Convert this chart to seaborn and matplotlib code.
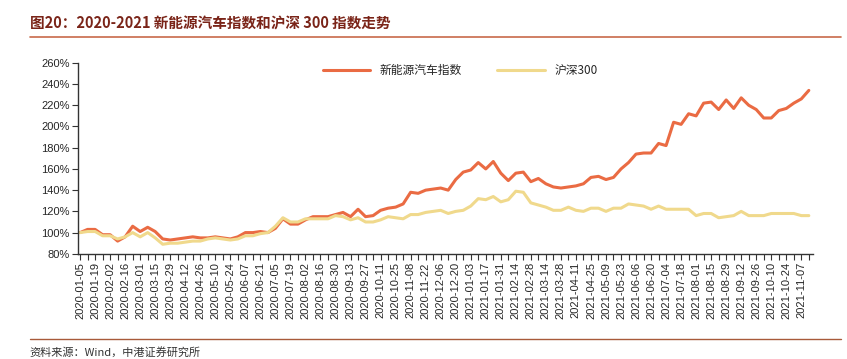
import pandas as pd
import seaborn as sns
import matplotlib.pyplot as plt
import matplotlib.dates as mdates

# weekly closes, rebased to 100% at 2020-01-05
nev = [100, 103, 103, 98, 98, 92, 96, 106, 101, 105, 101, 94, 93, 94, 95, 96, 95, 95, 96, 95,
       94, 96, 100, 100, 101, 100, 104, 113, 108, 108, 112, 115, 115, 115, 117, 119, 115, 122, 115, 116,
       121, 123, 124, 127, 138, 137, 140, 141, 142, 140, 150, 157, 159, 166, 160, 167, 156, 149, 156, 157,
       148, 151, 146, 143, 142, 143, 144, 146, 152, 153, 150, 152, 160, 166, 174, 175, 175, 184, 182, 204,
       202, 212, 210, 222, 223, 216, 225, 217, 227, 220, 216, 208, 208, 215, 217, 222, 226, 234]
hs300 = [100, 101, 101, 97, 97, 94, 96, 100, 96, 100, 95, 89, 90, 90, 91, 92, 92, 94, 95, 94,
         93, 94, 97, 97, 99, 100, 106, 114, 110, 110, 113, 113, 113, 113, 116, 115, 112, 114, 110, 110,
         112, 115, 114, 113, 117, 117, 119, 120, 121, 118, 120, 121, 125, 132, 131, 134, 129, 131, 139, 138,
         128, 126, 124, 121, 121, 124, 121, 120, 123, 123, 120, 123, 123, 127, 126, 125, 122, 125, 122, 122,
         122, 122, 116, 118, 118, 114, 115, 116, 120, 116, 116, 116, 118, 118, 118, 118, 116, 116]
dates = pd.date_range("2020-01-05", periods=len(nev), freq="W-SUN")
names = ["新能源汽车指数", "沪深300"]
colors = ["#EA6B43", "#F0D98C"]

df = pd.DataFrame({"date": dates, names[0]: nev, names[1]: hs300})
long = df.melt(id_vars="date", var_name="series", value_name="value")

sns.set_style("white")
plt.rcParams["font.family"] = ["Noto Sans CJK SC", "DejaVu Sans"]

fig = plt.figure(figsize=(8.47, 3.59), dpi=100)
ax = fig.add_axes([0.092, 0.293, 0.868, 0.532])

sns.lineplot(data=long, x="date", y="value", hue="series", palette=colors,
             linewidth=2.2, ax=ax)

ax.set_ylim(80, 260)
ax.set_yticks(range(80, 261, 20))
ax.set_yticklabels([f"{v}%" for v in range(80, 261, 20)], fontsize=8, family="Liberation Sans")
ax.set_xlim(dates[0] - pd.Timedelta(days=2), dates[-1] + pd.Timedelta(days=4))
ax.set_xticks(dates[::2])
ax.set_xticklabels([d.strftime("%Y-%m-%d") for d in dates[::2]], rotation=90,
                   fontsize=8, family="Liberation Sans")
ax.set_xticks(dates, minor=True)
ax.tick_params(axis="both", which="both", direction="out", length=4, width=0.8,
               color="#333333", left=True, bottom=True, pad=2)
ax.set_xlabel("")
ax.set_ylabel("")
sns.despine(ax=ax)
for s in ["left", "bottom"]:
    ax.spines[s].set_color("#333333")
    ax.spines[s].set_linewidth(1.0)

ax.legend(loc="upper center", bbox_to_anchor=(0.52, 1.05), ncol=2, frameon=False,
          fontsize=8.5, handlelength=4, columnspacing=3)

fig.text(0.035, 0.935, "图20：2020-2021 新能源汽车指数和沪深 300 指数走势",
         fontsize=10.5, fontweight="bold", color="#7A2418", va="center")
fig.add_artist(plt.Line2D([0.035, 0.993], [0.898, 0.898], color="#C8694A", linewidth=1.2))
fig.add_artist(plt.Line2D([0.035, 0.993], [0.055, 0.055], color="#A85A3A", linewidth=1.0))
fig.text(0.035, 0.018, "资料来源：Wind，中港证券研究所", fontsize=8, color="#333333",
         va="center", style="italic")

plt.savefig("out.png", dpi=100)
